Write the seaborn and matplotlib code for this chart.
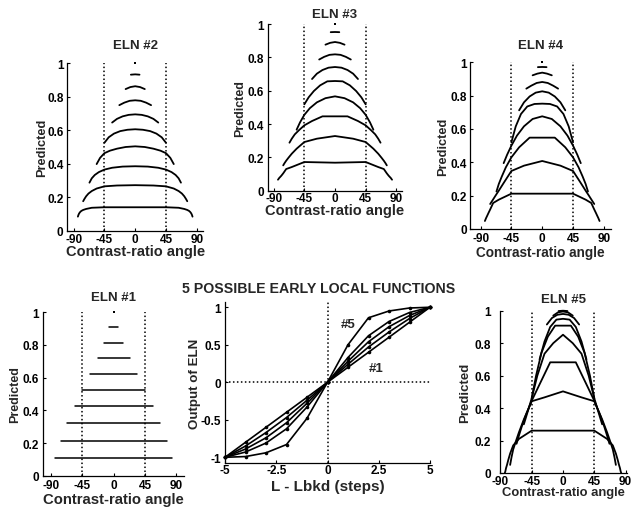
import matplotlib
matplotlib.use("Agg")
import matplotlib.pyplot as plt
import pandas as pd
import seaborn as sns

sns.set_style("ticks")
plt.rcParams["font.family"] = ["Liberation Sans", "DejaVu Sans"]
plt.rcParams["font.weight"] = "bold"
plt.rcParams["axes.labelweight"] = "bold"
plt.rcParams["axes.titleweight"] = "bold"
plt.rcParams["axes.unicode_minus"] = False

W, H = 636, 510

# ---------------------------------------------------------------- data
# Contrast-ratio angles (deg, non-negative half) sampled at each stimulus
# level, level 1 (bottom curve) .. level 10 (single point at the top).
level_angles = [
    [0, 45.0, 63.4, 71.6, 76.0, 78.7, 80.5, 81.9, 82.9, 83.7],
    [0, 26.6, 45.0, 56.3, 63.4, 68.2, 71.6, 74.1, 76.0],
    [0, 18.4, 33.7, 45.0, 53.1, 59.0, 63.4, 66.8],
    [0, 14.0, 26.6, 36.9, 45.0, 51.3, 56.3],
    [0, 11.3, 21.8, 31.0, 38.7, 45.0],
    [0, 9.5, 18.4, 26.6, 33.7],
    [0, 8.1, 15.9, 23.2],
    [0, 7.1, 14.0],
    [0, 6.3],
    [0],
]

# Predicted responses (half profiles, symmetric about 0 deg)
eln1_pred = [
    [0.106, 0.106, 0.106, 0.106, 0.106, 0.106, 0.106, 0.106, 0.106, 0.106],
    [0.214, 0.214, 0.214, 0.214, 0.214, 0.214, 0.214, 0.214, 0.214],
    [0.320, 0.320, 0.320, 0.320, 0.320, 0.320, 0.320, 0.320],
    [0.424, 0.424, 0.424, 0.424, 0.424, 0.424, 0.424],
    [0.527, 0.527, 0.527, 0.527, 0.527, 0.527],
    [0.620, 0.620, 0.620, 0.620, 0.620],
    [0.718, 0.718, 0.718, 0.718],
    [0.814, 0.814, 0.814],
    [0.908, 0.908],
    [1.0],
]
eln2_pred = [
    [0.140, 0.140, 0.137, 0.130, 0.124, 0.118, 0.111, 0.103, 0.094, 0.084],
    [0.272, 0.270, 0.265, 0.252, 0.237, 0.222, 0.206, 0.190, 0.176],
    [0.385, 0.383, 0.376, 0.365, 0.350, 0.333, 0.313, 0.287],
    [0.504, 0.500, 0.490, 0.478, 0.463, 0.435, 0.398],
    [0.606, 0.603, 0.595, 0.580, 0.558, 0.525],
    [0.695, 0.692, 0.683, 0.668, 0.646],
    [0.779, 0.776, 0.765, 0.750],
    [0.863, 0.858, 0.846],
    [0.934, 0.932],
    [1.0],
]
eln3_pred = [
    [0.168, 0.172, 0.142, 0.130, 0.104, 0.090, 0.082, 0.076, 0.070, 0.066],
    [0.328, 0.312, 0.292, 0.252, 0.222, 0.198, 0.180, 0.165, 0.152],
    [0.446, 0.446, 0.418, 0.392, 0.362, 0.338, 0.312, 0.288],
    [0.566, 0.555, 0.530, 0.495, 0.455, 0.410, 0.366],
    [0.658, 0.656, 0.632, 0.598, 0.560, 0.518],
    [0.742, 0.738, 0.724, 0.702, 0.670],
    [0.818, 0.815, 0.803, 0.787],
    [0.892, 0.887, 0.876],
    [0.952, 0.951],
    [1.0],
]
eln4_pred = [
    [0.212, 0.212, 0.176, 0.156, 0.117, 0.094, 0.078, 0.066, 0.056, 0.048],
    [0.408, 0.380, 0.348, 0.276, 0.230, 0.200, 0.178, 0.162, 0.150],
    [0.548, 0.548, 0.490, 0.430, 0.370, 0.315, 0.270, 0.225],
    [0.676, 0.660, 0.616, 0.560, 0.500, 0.445, 0.395],
    [0.752, 0.750, 0.735, 0.690, 0.615, 0.520],
    [0.826, 0.818, 0.795, 0.760, 0.712],
    [0.882, 0.876, 0.860, 0.842],
    [0.938, 0.932, 0.922],
    [0.972, 0.971],
    [1.0],
]
eln5_pred = [
    [0.261, 0.261, 0.210, 0.170, 0.120, 0.080, 0.050, 0.030, 0.010, 0.0],
    [0.503, 0.466, 0.442, 0.330, 0.250, 0.190, 0.145, 0.095, 0.050],
    [0.682, 0.682, 0.546, 0.445, 0.360, 0.290, 0.230, 0.180],
    [0.852, 0.800, 0.735, 0.600, 0.460, 0.370, 0.300],
    [0.908, 0.908, 0.840, 0.740, 0.600, 0.460],
    [0.950, 0.945, 0.900, 0.810, 0.700],
    [0.980, 0.975, 0.955, 0.915],
    [0.995, 0.990, 0.970],
    [1.0, 0.998],
    [1.0],
]

# The five early local functions: output vs. luminance step from background
steps = [-5, -4, -3, -2, -1, 0, 1, 2, 3, 4, 5]
fn1 = [-1.0, -0.80, -0.60, -0.40, -0.20, 0.0, 0.20, 0.40, 0.60, 0.80, 1.0]
fn2 = [-1.0, -0.85, -0.67, -0.47, -0.24, 0.0, 0.24, 0.47, 0.67, 0.85, 1.0]
fn3 = [-1.0, -0.89, -0.74, -0.54, -0.28, 0.0, 0.28, 0.54, 0.74, 0.89, 1.0]
fn4 = [-1.0, -0.93, -0.81, -0.62, -0.33, 0.0, 0.33, 0.62, 0.81, 0.93, 1.0]
fn5 = [-1.0, -0.99, -0.94, -0.83, -0.48, 0.0, 0.50, 0.86, 0.95, 0.99, 1.0]

reference_angles = [-45, 45]
angle_ticks = [-90, -45, 0, 45, 90]
angle_tick_labels = ["-90", "-45", "0", "45", "90"]
pred_ticks = [0, 0.2, 0.4, 0.6, 0.8, 1.0]
pred_tick_labels = ["0", "0.2", "0.4", "0.6", "0.8", "1"]
step_ticks = [-5, -2.5, 0, 2.5, 5]
step_tick_labels = ["-5", "-2.5", "0", "2.5", "5"]
out_ticks = [-1, -0.5, 0, 0.5, 1]
out_tick_labels = ["-1", "-0.5", "0", "0.5", "1"]


def profile_table(profiles):
    rows = []
    for lvl, (angs, vals) in enumerate(zip(level_angles, profiles), start=1):
        full_a = [-a for a in angs[:0:-1]] + list(angs)
        full_v = list(vals[:0:-1]) + list(vals)
        for a, v in zip(full_a, full_v):
            rows.append({"level": lvl, "angle": a, "predicted": v})
    return pd.DataFrame(rows)


# ---------------------------------------------------------------- layout (px)
panels = [
    dict(title="ELN #2", data=eln2_pred, box=(67.4, 203, 64.3, 231.7), xlim=(-99, 99),
         tpad=15.5, xl_y=252, yl_x=41.7, xl_fs=10.5, yl_fs=9.2, ypad=4, xpad=2.3, lw=1.3),
    dict(title="ELN #3", data=eln3_pred, box=(268.2, 401.8, 25, 191.7), xlim=(-98, 98),
         tpad=7.3, xl_y=211, yl_x=240.5, xl_fs=10.5, yl_fs=9.0, ypad=4, xpad=0.8, lw=1.3),
    dict(title="ELN #4", data=eln4_pred, box=(470.3, 610.7, 63.3, 230), xlim=(-105, 100),
         tpad=14.3, xl_y=253, yl_x=443.5, xl_fs=9.8, yl_fs=9.2, ypad=3.5, xpad=3.3, lw=1.3),
    dict(title="ELN #1", data=eln1_pred, box=(43.4, 184, 313.3, 476.7), xlim=(-101, 101),
         tpad=12.5, xl_y=500, yl_x=15.5, xl_fs=10.7, yl_fs=9.0, ypad=4.5, xpad=3.3, lw=1.1),
    dict(title="ELN #5", data=eln5_pred, box=(499.7, 627, 311.7, 474), xlim=(-91, 92),
         tpad=8.7, xl_y=493, yl_x=465, xl_fs=9.4, yl_fs=9.5, ypad=9, xpad=2.0, lw=1.3),
]

PT = 0.72  # points per pixel at 100 dpi


def px_box(left, right, top, bottom):
    return [left / W, 1 - bottom / H, (right - left) / W, (bottom - top) / H]


def finish_axes(ax, box, title, tpad, xlabel, ylabel, xl_y, yl_x, xl_fs, yl_fs,
                ypad, xpad, title_size=9.5):
    left, right, top, bottom = box
    for side in ("top", "right"):
        ax.spines[side].set_visible(False)
    for side in ("left", "bottom"):
        ax.spines[side].set_linewidth(0.9)
        ax.spines[side].set_color("black")
    ax.tick_params(axis="both", direction="in", length=2.5, width=0.8,
                   labelsize=8.5, colors="black")
    ax.tick_params(axis="y", pad=ypad * PT)
    ax.tick_params(axis="x", pad=xpad * PT)
    for lab in ax.get_xticklabels() + ax.get_yticklabels():
        lab.set_fontweight("bold")
    ax.set_title(title, fontsize=title_size, fontweight="bold", pad=tpad * PT)
    ax.set_xlabel(xlabel, fontsize=xl_fs, fontweight="bold", va="center")
    ax.set_ylabel(ylabel, fontsize=yl_fs, fontweight="bold", va="center")
    ax.xaxis.set_label_coords(0.5, (bottom - xl_y) / (bottom - top))
    ax.yaxis.set_label_coords((yl_x - left) / (right - left), 0.5)


fig = plt.figure(figsize=(W / 100, H / 100), dpi=100)
fig.patch.set_facecolor("white")

dot_style = dict(color="black", linestyle=(0, (1, 1.6)), linewidth=1.1)

for p in panels:
    ax = fig.add_axes(px_box(*p["box"]))
    ax.set_facecolor("white")
    df = profile_table(p["data"])
    counts = df.groupby("level")["angle"].transform("size")
    curves = df[counts > 1]
    tips = df[counts == 1]
    for ang in reference_angles:
        ax.axvline(ang, **dot_style)
    sns.lineplot(data=curves, x="angle", y="predicted", units="level",
                 estimator=None, sort=False, color="black", linewidth=p["lw"],
                 legend=False, ax=ax, clip_on=False)
    sns.scatterplot(data=tips, x="angle", y="predicted", color="black",
                    marker="s", s=3, linewidth=0, legend=False, ax=ax, clip_on=False)
    ax.set_xlim(*p["xlim"])
    ax.set_ylim(0, 1)
    ax.set_xticks(angle_ticks, angle_tick_labels)
    ax.set_yticks(pred_ticks, pred_tick_labels)
    finish_axes(ax, p["box"], p["title"], p["tpad"], "Contrast-ratio angle",
                "Predicted", p["xl_y"], p["yl_x"], p["xl_fs"], p["yl_fs"],
                p["ypad"], p["xpad"])

# ---------------------------------------------------------------- functions panel
mid_box = (225, 430, 303, 464)
axm = fig.add_axes(px_box(*mid_box))
axm.set_facecolor("white")
fn_df = pd.DataFrame({
    "step": steps * 5,
    "output": fn1 + fn2 + fn3 + fn4 + fn5,
    "fn": sum([[name] * len(steps) for name in ["#1", "#2", "#3", "#4", "#5"]], []),
})
axm.axvline(0, **dot_style)
axm.axhline(0, **dot_style)
sns.lineplot(data=fn_df, x="step", y="output", units="fn", estimator=None,
             sort=False, color="black", linewidth=1.2, marker="o", markersize=2.6,
             markeredgewidth=0, legend=False, ax=axm, clip_on=False)
axm.set_xlim(-5, 5)
axm.set_ylim(-1.076, 1.07)
axm.set_xticks(step_ticks, step_tick_labels)
axm.set_yticks(out_ticks, out_tick_labels)
finish_axes(axm, mid_box, "5 POSSIBLE EARLY LOCAL FUNCTIONS", 10.2,
            "L - Lbkd (steps)", "Output of ELN", 487, 195, 11.0, 9.6,
            4, 0.8, title_size=10.2)
axm.title.set_x((319 - mid_box[0]) / (mid_box[1] - mid_box[0]))
axm.text(1.03, 0.78, "#5", fontsize=9.5, fontweight="bold", ha="center", va="center")
axm.text(2.37, 0.19, "#1", fontsize=9.5, fontweight="bold", ha="center", va="center")

fig.savefig("out.png", dpi=100, facecolor="white")
